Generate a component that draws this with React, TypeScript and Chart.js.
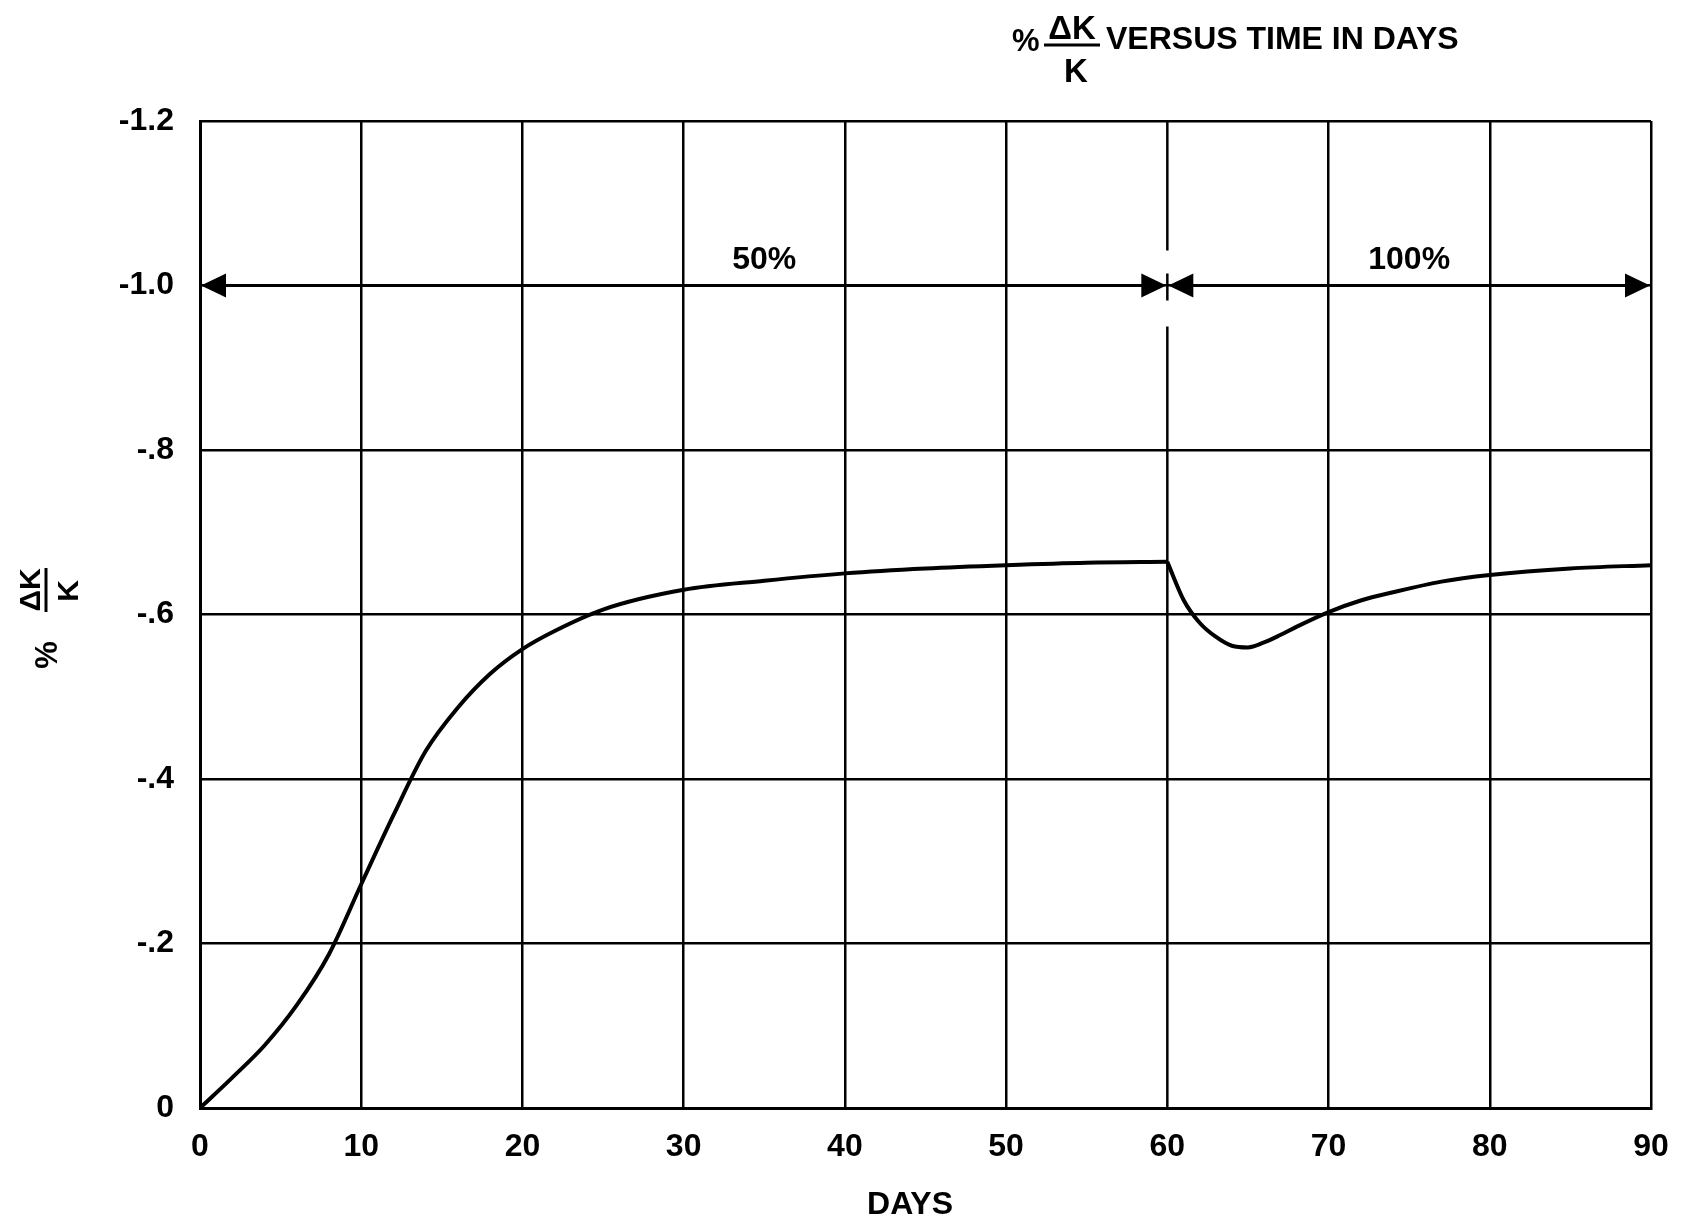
import { useEffect, useRef } from "react";
import { Chart, registerables } from "chart.js";

Chart.register(...registerables);

const FONT = '"Liberation Sans", Arial, Helvetica, sans-serif';

// 50% power phase
const days50 = [0, 2, 4, 6, 8, 10, 12, 14, 16, 18, 20, 22, 25, 30, 35, 40, 45, 50, 55, 60];
const dk50 = [0, -0.037, -0.076, -0.125, -0.187, -0.272, -0.356, -0.434, -0.487, -0.528, -0.558, -0.58, -0.606, -0.63, -0.641, -0.65, -0.656, -0.66, -0.663, -0.664];

// 100% power phase
const days100 = [60, 61, 62, 63, 64, 65, 66, 67, 68, 70, 72, 74, 77, 80, 85, 90];
const dk100 = [-0.664, -0.618, -0.59, -0.573, -0.562, -0.56, -0.566, -0.575, -0.585, -0.603, -0.617, -0.627, -0.64, -0.648, -0.656, -0.66];

const xTicks = [0, 10, 20, 30, 40, 50, 60, 70, 80, 90];
const yTickValues = [-1.2, -1.0, -0.8, -0.6, -0.4, -0.2, 0];
const yTickLabels = ["-1.2", "-1.0", "-.8", "-.6", "-.4", "-.2", "0"];

const phaseFrom = [0, 60];
const phaseTo = [60, 90];
const phaseLabels = ["50%", "100%"];
const phaseLabelDay = [35, 75];
const arrowLevel = -1.0;
const labelLevel = -1.02;
const breakDay = 60;

function arrowHead(ctx: CanvasRenderingContext2D, tipX: number, y: number, dir: number) {
  const len = 25;
  const half = 12;
  ctx.beginPath();
  ctx.moveTo(tipX, y);
  ctx.lineTo(tipX - dir * len, y - half);
  ctx.lineTo(tipX - dir * len, y + half);
  ctx.closePath();
  ctx.fill();
}

const decorPlugin = {
  id: "decor",
  beforeDatasetsDraw(chart: any) {
    const { ctx, scales, chartArea } = chart;
    const x = scales.x.getPixelForValue(breakDay);
    const y1 = scales.y.getPixelForValue(arrowLevel);
    ctx.save();
    ctx.strokeStyle = "#000";
    ctx.lineWidth = 2.5;
    const segs = [
      [chartArea.top, y1 - 35],
      [y1 - 12, y1 + 15],
      [y1 + 41, chartArea.bottom],
    ];
    for (const [a, b] of segs) {
      ctx.beginPath();
      ctx.moveTo(x, a);
      ctx.lineTo(x, b);
      ctx.stroke();
    }
    // arrows
    ctx.fillStyle = "#000";
    ctx.lineWidth = 3;
    for (let i = 0; i < phaseFrom.length; i++) {
      const xa = scales.x.getPixelForValue(phaseFrom[i]);
      const xb = scales.x.getPixelForValue(phaseTo[i]);
      ctx.beginPath();
      ctx.moveTo(xa + 10, y1);
      ctx.lineTo(xb - 10, y1);
      ctx.stroke();
      arrowHead(ctx, xa + 1, y1, -1);
      arrowHead(ctx, xb - 1, y1, 1);
      ctx.font = `bold 32px ${FONT}`;
      ctx.textAlign = "center";
      ctx.textBaseline = "alphabetic";
      ctx.fillText(phaseLabels[i], scales.x.getPixelForValue(phaseLabelDay[i]), scales.y.getPixelForValue(labelLevel));
    }
    ctx.restore();
  },
  afterDraw(chart: any) {
    const { ctx } = chart;
    ctx.save();
    ctx.fillStyle = "#000";
    ctx.strokeStyle = "#000";
    ctx.textBaseline = "alphabetic";
    // Title
    ctx.textAlign = "left";
    ctx.font = `bold 31px ${FONT}`;
    ctx.fillText("%", 1004, 43);
    ctx.textAlign = "center";
    ctx.font = `bold 33px ${FONT}`;
    ctx.fillText("\u0394K", 1064, 31);
    ctx.lineWidth = 3;
    ctx.beginPath();
    ctx.moveTo(1036, 37);
    ctx.lineTo(1092, 37);
    ctx.stroke();
    ctx.fillText("K", 1068, 74);
    ctx.textAlign = "left";
    ctx.font = `bold 32px ${FONT}`;
    ctx.fillText("VERSUS TIME IN DAYS", 1098, 41);

    // x axis title
    ctx.textAlign = "center";
    ctx.font = `bold 32px ${FONT}`;
    ctx.fillText("DAYS", 902, 1206);

    // y axis title (rotated)
    ctx.save();
    ctx.translate(38, 612);
    ctx.rotate(-Math.PI / 2);
    ctx.font = `bold 31px ${FONT}`;
    ctx.textAlign = "center";
    ctx.fillText("%", -35, 11);
    ctx.font = `bold 30px ${FONT}`;
    ctx.fillText("\u0394K", 30, -6);
    ctx.lineWidth = 3;
    ctx.beginPath();
    ctx.moveTo(8, 0);
    ctx.lineTo(52, 0);
    ctx.stroke();
    ctx.fillText("K", 29, 32);
    ctx.restore();

    ctx.restore();
  },
};

export default function App() {
  const ref = useRef<HTMLCanvasElement | null>(null);

  useEffect(() => {
    if (!ref.current) return;
    const chart = new Chart(ref.current, {
      type: "line",
      data: {
        datasets: [
          {
            data: days50.map((d, i) => ({ x: d, y: dk50[i] })),
            borderColor: "#000",
            borderWidth: 4,
            pointRadius: 0,
            cubicInterpolationMode: "monotone",
            fill: false,
          },
          {
            data: days100.map((d, i) => ({ x: d, y: dk100[i] })),
            borderColor: "#000",
            borderWidth: 4,
            pointRadius: 0,
            cubicInterpolationMode: "monotone",
            fill: false,
          },
        ],
      },
      options: {
        animation: false,
        responsive: false,
        maintainAspectRatio: false,
        layout: { padding: { top: 113, right: 24, left: 0, bottom: 0 } },
        plugins: { legend: { display: false }, tooltip: { enabled: false }, title: { display: false } },
        scales: {
          x: {
            type: "linear",
            min: 0,
            max: 90,
            afterBuildTicks: (s: any) => {
              s.ticks = xTicks.map((v) => ({ value: v }));
            },
            afterFit: (s: any) => {
              s.height = 106;
              s.paddingLeft = 0;
              s.paddingRight = 0;
            },
            grid: {
              color: (c: any) => (c.tick && c.tick.value === breakDay ? "rgba(0,0,0,0)" : "#000"),
              lineWidth: 2.5,
              drawTicks: false,
            },
            border: { display: true, color: "#000", width: 3 },
            ticks: {
              color: "#000",
              padding: 20,
              maxRotation: 0,
              font: { family: FONT, size: 32, weight: "bold" },
            },
          },
          y: {
            type: "linear",
            min: -1.2,
            max: 0,
            reverse: true,
            afterBuildTicks: (s: any) => {
              s.ticks = yTickValues.map((v) => ({ value: v }));
            },
            afterFit: (s: any) => {
              s.width = 192;
              s.paddingTop = 0;
              s.paddingBottom = 0;
            },
            grid: { color: "#000", lineWidth: 2.5, drawTicks: false },
            border: { display: true, color: "#000", width: 3 },
            ticks: {
              color: "#000",
              padding: 26,
              font: { family: FONT, size: 32, weight: "bold" },
              callback: (v: any) => {
                const idx = yTickValues.findIndex((t) => Math.abs(t - Number(v)) < 1e-6);
                return idx >= 0 ? yTickLabels[idx] : "";
              },
            },
          },
        },
      } as any,
      plugins: [decorPlugin],
    });
    return () => chart.destroy();
  }, []);

  return (
    <div style={{ width: 1667, height: 1206 }}>
      <canvas ref={ref} width={1667} height={1206} style={{ display: "block", width: 1667, height: 1206 }} />
    </div>
  );
}
